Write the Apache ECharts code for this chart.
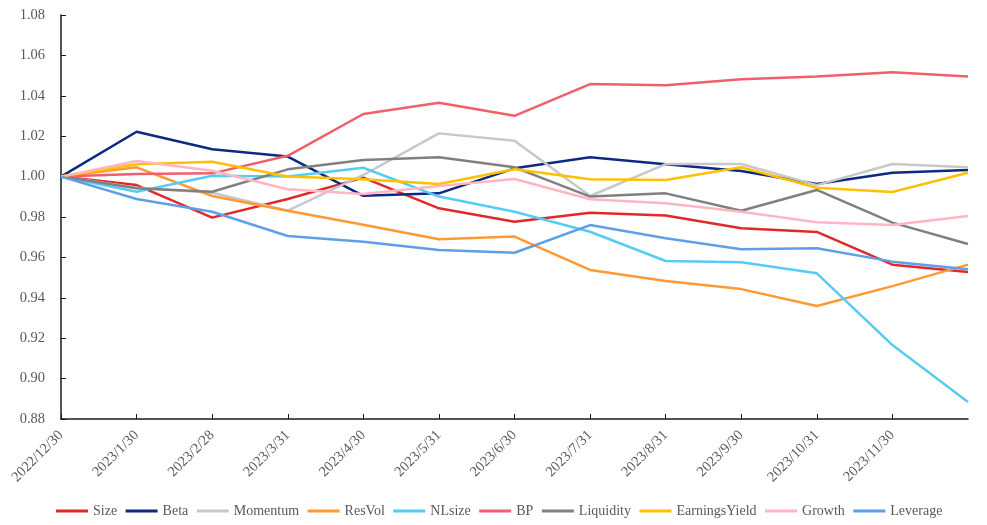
<!DOCTYPE html>
<html>
<head>
<meta charset="utf-8">
<script src="https://cdn.jsdelivr.net/npm/echarts@6/dist/echarts.min.js"></script>
<style>
html,body{margin:0;padding:0;background:#fff;}
#chart{width:987px;height:525px;}
</style>
</head>
<body>
<div id="chart"></div>
<script>
const categories = ['2022/12/30','2023/1/30','2023/2/28','2023/3/31','2023/4/30','2023/5/31','2023/6/30','2023/7/31','2023/8/31','2023/9/30','2023/10/31','2023/11/30','2023/12/29'];
const seriesNames = ['Size','Beta','Momentum','ResVol','NLsize','BP','Liquidity','EarningsYield','Growth','Leverage'];
const seriesColors = ['#e02a2a','#0d2a80','#c8c8c8','#ff9933','#55ccf5','#f0606a','#808080','#ffc000','#ffb6c1','#5ea0e8'];

const Size          = [1.000,0.9958,0.9797,0.9889,0.9995,0.9843,0.9777,0.9821,0.9807,0.9744,0.9726,0.9564,0.9528];
const Beta          = [1.000,1.0222,1.0135,1.0099,0.9905,0.9917,1.0041,1.0096,1.0061,1.0028,0.9963,1.0019,1.0033];
const Momentum      = [1.000,0.9945,0.9920,0.9831,1.0008,1.0214,1.0178,0.9904,1.0062,1.0062,0.9958,1.0062,1.0046];
const ResVol        = [1.000,1.0046,0.9904,0.9831,0.9762,0.9690,0.9703,0.9538,0.9483,0.9443,0.9359,0.9458,0.9564];
const NLsize        = [1.000,0.9925,1.0004,1.0000,1.0044,0.9901,0.9826,0.9727,0.9582,0.9576,0.9521,0.9166,0.8884];
const BP            = [1.000,1.0013,1.0016,1.0103,1.0310,1.0366,1.0301,1.0458,1.0452,1.0482,1.0495,1.0516,1.0495];
const Liquidity     = [1.000,0.9942,0.9925,1.0036,1.0082,1.0096,1.0046,0.9901,0.9917,0.9831,0.9934,0.9772,0.9666];
const EarningsYield = [1.000,1.0061,1.0074,1.0000,0.9987,0.9963,1.0036,0.9987,0.9983,1.0046,0.9945,0.9924,1.0019];
const Growth        = [1.000,1.0077,1.0029,0.9937,0.9914,0.9953,0.9988,0.9888,0.9868,0.9826,0.9774,0.9760,0.9805];
const Leverage      = [1.000,0.9889,0.9826,0.9706,0.9678,0.9637,0.9623,0.9760,0.9695,0.9640,0.9645,0.9579,0.9541];

const seriesData = [Size,Beta,Momentum,ResVol,NLsize,BP,Liquidity,EarningsYield,Growth,Leverage];

const font = 'Liberation Serif, Times New Roman, serif';
const chart = echarts.init(document.getElementById('chart'));
chart.setOption({
  animation: false,
  backgroundColor: '#ffffff',
  color: seriesColors,
  grid: { left: 61, right: 19, top: 15, bottom: 106, containLabel: false },
  legend: {
    bottom: 2,
    left: 51,
    padding: 5,
    icon: 'rect',
    itemWidth: 32,
    itemHeight: 3,
    itemGap: 8.5,
    textStyle: { fontFamily: font, fontSize: 14, color: '#595959' },
    data: seriesNames
  },
  xAxis: {
    type: 'category',
    boundaryGap: false,
    data: categories,
    axisLine: { lineStyle: { color: '#1a1a1a', width: 1.5 } },
    axisTick: { inside: true, length: 5, alignWithLabel: true, lineStyle: { color: '#1a1a1a' },
      interval: function(i){ return i < categories.length - 1; } },
    axisLabel: {
      rotate: 45,
      interval: 0,
      fontFamily: font, fontSize: 14.5, color: '#595959', margin: 14,
      formatter: function(v, i){ return i === categories.length - 1 ? '' : v; }
    },
    splitLine: { show: false }
  },
  yAxis: {
    type: 'value',
    min: 0.88,
    max: 1.08,
    interval: 0.02,
    axisLine: { show: true, lineStyle: { color: '#1a1a1a', width: 1.5 } },
    axisTick: { show: true, inside: true, length: 5, lineStyle: { color: '#1a1a1a' } },
    axisLabel: { fontFamily: font, fontSize: 14.5, color: '#595959', margin: 16,
      formatter: function(v){ return v.toFixed(2); } },
    splitLine: { show: false }
  },
  series: seriesNames.map(function(name, i){
    return {
      name: name,
      type: 'line',
      data: seriesData[i],
      showSymbol: false,
      symbol: 'none',
      lineStyle: { width: 2.5, color: seriesColors[i] },
      itemStyle: { color: seriesColors[i] }
    };
  })
});
</script>
</body>
</html>
